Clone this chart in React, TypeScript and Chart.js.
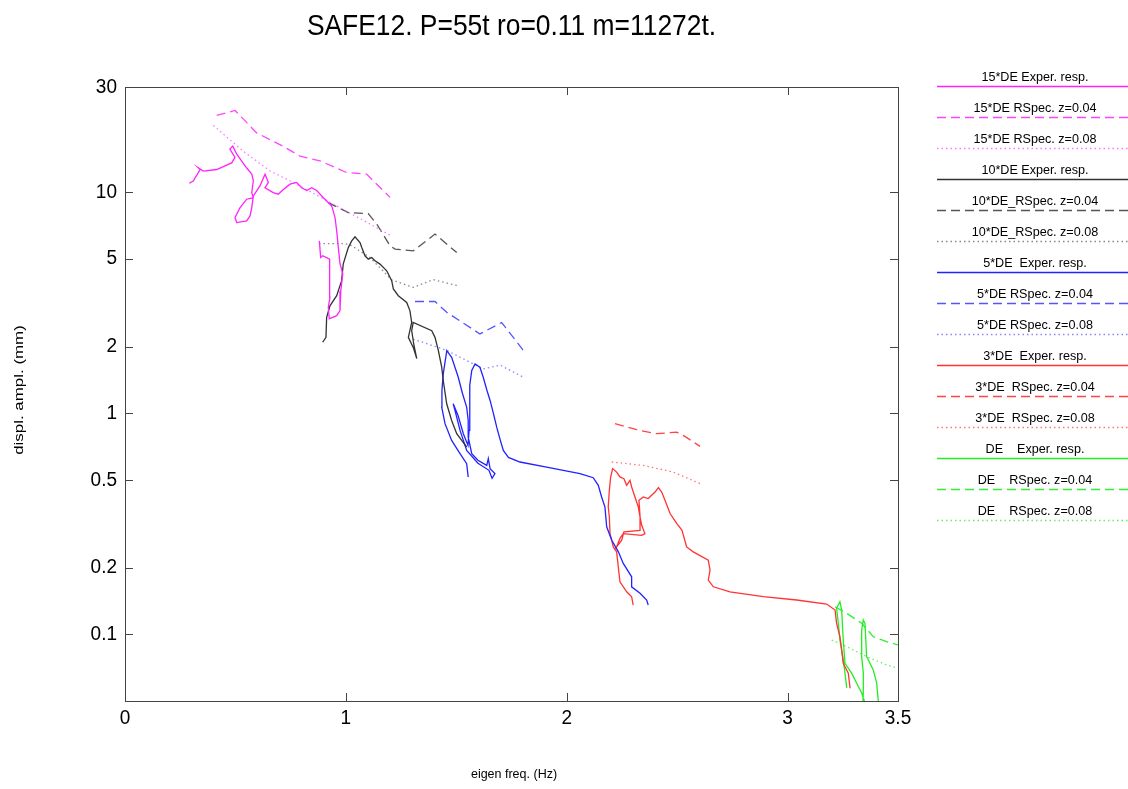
import React, { useEffect, useRef } from 'react';
import { Chart, registerables } from 'chart.js';
Chart.register(...registerables);

const TITLE = 'SAFE12. P=55t ro=0.11 m=11272t.';
const X_LABEL = 'eigen freq. (Hz)';
const Y_LABEL = 'displ. ampl. (mm)';
const X_TICKS = [0, 1, 2, 3, 3.5];
const X_TICK_LABELS = ['0', '1', '2', '3', '3.5'];
const Y_TICKS = [0.1, 0.2, 0.5, 1, 2, 5, 10, 30];
const Y_TICK_LABELS = ['0.1', '0.2', '0.5', '1', '2', '5', '10', '30'];

const LABELS = [
  '15*DE Exper. resp.',
  '15*DE RSpec. z=0.04',
  '15*DE RSpec. z=0.08',
  '10*DE Exper. resp.',
  '10*DE_RSpec. z=0.04',
  '10*DE_RSpec. z=0.08',
  '5*DE  Exper. resp.',
  '5*DE RSpec. z=0.04',
  '5*DE RSpec. z=0.08',
  '3*DE  Exper. resp.',
  '3*DE  RSpec. z=0.04',
  '3*DE  RSpec. z=0.08',
  'DE    Exper. resp.',
  'DE    RSpec. z=0.04',
  'DE    RSpec. z=0.08',
];

// [freq (Hz), amplitude (mm)]
const de15Exp = [[0.291,11.0],[0.309,11.27],[0.340,12.7],[0.332,12.94],[0.3545,12.5],[0.415,12.7],[0.483,13.6],[0.498,14.4],[0.475,15.7],[0.488,16.2],[0.506,14.9],[0.551,12.9],[0.574,12.1],[0.581,11.3],[0.574,9.98],[0.581,9.47],[0.551,9.32],[0.521,8.54],[0.498,7.70],[0.506,7.31],[0.551,7.44],[0.566,7.83],[0.574,8.54],[0.581,9.64],[0.611,10.7],[0.634,12.1],[0.649,11.1],[0.634,10.5],[0.671,9.98],[0.694,9.82],[0.717,10.3],[0.747,10.9],[0.777,11.1],[0.800,10.5],[0.823,10.2],[0.845,10.5],[0.868,10.2],[0.898,9.47],[0.936,8.69],[0.951,7.70],[0.9585,6.70],[0.966,5.63],[0.9735,4.76],[0.986,4.29],[0.977,3.59],[0.9735,2.92],[0.9585,2.77],[0.925,2.68],[0.9205,3.02],[0.928,3.35],[0.925,4.27],[0.928,4.99],[0.895,5.17],[0.886,5.08],[0.880,6.04]];
const de15Rs04 = [[0.415,22.3],[0.498,23.5],[0.596,18.6],[0.715,16.2],[0.792,14.6],[0.883,13.9],[1.004,12.3],[1.094,12.1],[1.20,9.5]];
const de15Rs08 = [[0.40,20.1],[0.534,15.4],[0.657,12.5],[0.747,11.3],[0.913,9.2],[1.109,7.2],[1.20,6.4]];

const de10Exp = [[0.895,2.10],[0.910,2.21],[0.913,2.72],[0.928,3.07],[0.9585,3.41],[0.981,3.99],[0.988,4.74],[1.011,5.63],[1.0265,6.04],[1.0414,6.30],[1.064,5.93],[1.072,5.63],[1.0866,5.17],[1.1016,4.99],[1.117,5.08],[1.132,4.91],[1.1546,4.74],[1.185,4.42],[1.2075,3.99],[1.215,3.66],[1.2375,3.41],[1.2755,3.18],[1.290,2.92],[1.298,2.58],[1.283,2.21],[1.305,1.99],[1.321,1.77],[1.3085,2.03],[1.298,2.37],[1.305,2.58],[1.389,2.37],[1.4036,2.21],[1.4186,1.93],[1.434,1.62],[1.441,1.41],[1.4566,1.106],[1.479,0.930],[1.502,0.810],[1.5245,0.755],[1.547,0.705]];
const de10Rs04 = [[0.9205,9.0],[1.011,8.11],[1.1015,8.02],[1.14,7.19],[1.20,5.74],[1.2225,5.54],[1.305,5.44],[1.4036,6.48],[1.502,5.35]];
const de10Rs08 = [[0.878,5.87],[0.996,5.87],[1.0265,5.74],[1.109,5.08],[1.2075,4.02],[1.305,3.72],[1.396,4.03],[1.509,3.78]];

const de5Exp = [[1.554,0.516],[1.547,0.593],[1.517,0.658],[1.479,0.755],[1.449,0.899],[1.434,1.068],[1.435,1.27],[1.441,1.511],[1.457,1.925],[1.479,1.796],[1.494,1.618],[1.509,1.458],[1.528,1.231],[1.547,1.068],[1.554,0.93],[1.554,0.782],[1.570,0.658],[1.598,0.614],[1.638,0.582],[1.645,0.625],[1.653,0.563],[1.675,0.534],[1.662,0.509],[1.648,0.553],[1.598,0.595],[1.547,0.681],[1.517,0.838],[1.494,1.032],[1.486,1.106],[1.508,0.979],[1.532,0.81],[1.553,0.717],[1.558,0.838],[1.560,1.145],[1.562,1.338],[1.570,1.564],[1.585,1.676],[1.607,1.618],[1.622,1.458],[1.639,1.27],[1.653,1.145],[1.668,1.0],[1.683,0.867],[1.697,0.771],[1.713,0.681],[1.736,0.633],[1.788,0.603],[1.909,0.572],[2.060,0.534],[2.120,0.512],[2.143,0.473],[2.158,0.419],[2.173,0.378],[2.181,0.307],[2.204,0.267],[2.234,0.2365],[2.256,0.2097],[2.294,0.1824],[2.294,0.1643],[2.332,0.1535],[2.362,0.1432],[2.369,0.1359]];
const de5Rs04 = [[1.313,3.21],[1.4036,3.21],[1.4566,2.87],[1.607,2.29],[1.7055,2.58],[1.8034,1.93]];
const de5Rs08 = [[1.305,2.17],[1.4566,1.93],[1.547,1.735],[1.622,1.59],[1.698,1.655],[1.8034,1.46]];

const de3Exp = [[2.301,0.1359],[2.294,0.1482],[2.2715,0.156],[2.241,0.1731],[2.2335,0.2023],[2.226,0.2365],[2.211,0.249],[2.196,0.2863],[2.193,0.3402],[2.188,0.378],[2.193,0.449],[2.199,0.516],[2.208,0.563],[2.226,0.543],[2.241,0.516],[2.259,0.507],[2.2715,0.473],[2.2865,0.498],[2.294,0.465],[2.309,0.419],[2.324,0.378],[2.332,0.34],[2.3395,0.312],[2.354,0.286],[2.3395,0.281],[2.256,0.286],[2.241,0.272],[2.226,0.249],[2.249,0.267],[2.259,0.291],[2.332,0.296],[2.332,0.343],[2.327,0.405],[2.347,0.419],[2.369,0.412],[2.400,0.441],[2.415,0.462],[2.430,0.441],[2.445,0.405],[2.468,0.3525],[2.498,0.318],[2.522,0.296],[2.543,0.249],[2.573,0.2365],[2.641,0.217],[2.649,0.1955],[2.641,0.1762],[2.664,0.1643],[2.739,0.156],[2.890,0.1482],[3.041,0.1432],[3.177,0.1373],[3.215,0.129],[3.222,0.1123],[3.237,0.0977],[3.245,0.0851],[3.252,0.0741],[3.275,0.0668],[3.283,0.0571]];
const de3Rs04 = [[2.2186,0.899],[2.3168,0.844],[2.4074,0.810],[2.4979,0.823],[2.5278,0.796],[2.6034,0.710]];
const de3Rs08 = [[2.2036,0.603],[2.3467,0.582],[2.4826,0.543],[2.6034,0.4816]];

const de1Exp = [[3.268,0.0573],[3.260,0.0668],[3.252,0.0767],[3.237,0.0944],[3.230,0.1123],[3.222,0.1313],[3.237,0.1406],[3.245,0.129],[3.252,0.0944],[3.260,0.0741],[3.290,0.0668],[3.313,0.0602],[3.3355,0.0543],[3.355,0.0475],[3.341,0.046],[3.343,0.0562],[3.343,0.0668],[3.3355,0.0794],[3.3355,0.1048],[3.343,0.1162],[3.3505,0.1123],[3.358,0.0794],[3.388,0.0691],[3.4035,0.0602],[3.411,0.0497],[3.414,0.0453]];
const de1Rs04 = [[3.2147,0.1335],[3.2677,0.1247],[3.3355,0.1123],[3.3881,0.0977],[3.4487,0.0928],[3.4999,0.0897]];
const de1Rs08 = [[3.1997,0.0944],[3.2677,0.0881],[3.3582,0.0794],[3.4487,0.0728],[3.4999,0.0704]];

const SERIES = [de15Exp, de15Rs04, de15Rs08, de10Exp, de10Rs04, de10Rs08, de5Exp, de5Rs04, de5Rs08, de3Exp, de3Rs04, de3Rs08, de1Exp, de1Rs04, de1Rs08];
const COLORS = [
  '#ff22ff', '#ff44ff', '#ff77ff',
  '#333333', '#555555', '#888888',
  '#2222ff', '#5555ff', '#8888ff',
  '#ff3333', '#ff4444', '#ff7777',
  '#22ee22', '#33ee33', '#66ee66',
];
const DASHES = [[], [9, 5], [1.5, 3]];

const FONT = '"Liberation Sans", Arial, Helvetica, sans-serif';

function txt(ctx: CanvasRenderingContext2D, s: string, x: number, y: number, size: number, align: CanvasTextAlign, sx = 1, sy = 1, rot = 0) {
  ctx.save();
  ctx.translate(x, y);
  ctx.scale(sx, sy);
  if (rot) ctx.rotate(rot);
  ctx.font = `${size}px ${FONT}`;
  ctx.fillStyle = '#000';
  ctx.textAlign = align;
  ctx.textBaseline = 'middle';
  ctx.fillText(s, 0, 0);
  ctx.restore();
}

const framePlugin = {
  id: 'matlabFrame',
  beforeDraw(chart: any) {
    const ctx = chart.ctx;
    ctx.save();
    ctx.fillStyle = '#fff';
    ctx.fillRect(0, 0, chart.width, chart.height);
    ctx.restore();
  },
  afterDraw(chart: any) {
    const ctx: CanvasRenderingContext2D = chart.ctx;
    const { left, right, top, bottom } = chart.chartArea;
    const xs = chart.scales.x;
    const ys = chart.scales.y;
    ctx.save();
    ctx.strokeStyle = '#444';
    ctx.lineWidth = 1;
    ctx.setLineDash([]);
    ctx.strokeRect(Math.round(left) + 0.5, Math.round(top) + 0.5, Math.round(right - left), Math.round(bottom - top));
    const TL = 8;
    ctx.beginPath();
    Y_TICKS.forEach((v) => {
      const py = Math.round(ys.getPixelForValue(v)) + 0.5;
      ctx.moveTo(left, py); ctx.lineTo(left + TL, py);
      ctx.moveTo(right, py); ctx.lineTo(right - TL, py);
    });
    X_TICKS.forEach((v) => {
      const px = Math.round(xs.getPixelForValue(v)) + 0.5;
      ctx.moveTo(px, bottom); ctx.lineTo(px, bottom - TL);
      ctx.moveTo(px, top); ctx.lineTo(px, top + TL);
    });
    ctx.stroke();
    ctx.restore();

    Y_TICKS.forEach((v, i) => {
      txt(ctx, Y_TICK_LABELS[i], left - 8, ys.getPixelForValue(v), 20, 'right', 0.95);
    });
    X_TICKS.forEach((v, i) => {
      txt(ctx, X_TICK_LABELS[i], xs.getPixelForValue(v), bottom + 17, 20, 'center', 0.95);
    });

    txt(ctx, TITLE, (left + right) / 2, 27, 30, 'center', 0.88);
    txt(ctx, X_LABEL, 514, 775, 12.5, 'center', 1);
    txt(ctx, Y_LABEL, 19, 390, 13, 'center', 1, 1.3, -Math.PI / 2);

    // legend
    chart.data.datasets.forEach((ds: any, i: number) => {
      const ty = 77 + 31 * i;
      const ly = 86 + 31 * i;
      txt(ctx, ds.label, 1035, ty, 13, 'center', 0.97);
      ctx.save();
      ctx.strokeStyle = ds.borderColor;
      ctx.lineWidth = 1.3;
      ctx.setLineDash(ds.borderDash || []);
      ctx.beginPath();
      ctx.moveTo(937, ly + 0.5);
      ctx.lineTo(1128, ly + 0.5);
      ctx.stroke();
      ctx.restore();
    });
  },
};

export default function App() {
  const ref = useRef<HTMLCanvasElement>(null);
  useEffect(() => {
    document.body.style.margin = '0';
    const datasets = SERIES.map((pts, i) => ({
      label: LABELS[i],
      data: pts.map(([x, y]) => ({ x, y })),
      borderColor: COLORS[i],
      backgroundColor: COLORS[i],
      borderWidth: 1.3,
      borderDash: DASHES[i % 3],
      pointRadius: 0,
      fill: false,
      tension: 0,
    }));
    const chart = new Chart(ref.current as HTMLCanvasElement, {
      type: 'line',
      data: { datasets } as any,
      options: {
        animation: false,
        responsive: false,
        devicePixelRatio: 1,
        events: [],
        layout: { padding: { top: 87, right: 230, bottom: 0, left: 0 } },
        plugins: { legend: { display: false }, title: { display: false }, tooltip: { enabled: false } },
        scales: {
          x: {
            type: 'linear', min: 0, max: 3.5,
            ticks: { display: false }, grid: { display: false }, border: { display: false },
            afterFit: (s: any) => { s.height = 88; },
          },
          y: {
            type: 'logarithmic', min: 0.05, max: 30,
            ticks: { display: false }, grid: { display: false }, border: { display: false },
            afterFit: (s: any) => { s.width = 125; },
          },
        },
      } as any,
      plugins: [framePlugin],
    });
    return () => chart.destroy();
  }, []);
  return <canvas ref={ref} width={1128} height={789} style={{ display: 'block' }} />;
}
